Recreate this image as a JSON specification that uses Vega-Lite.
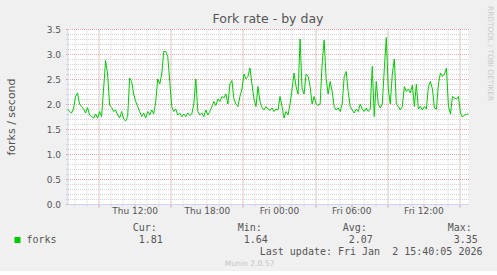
{
"$schema": "https://vega.github.io/schema/vega-lite/v6.json",
"background": "#f0f0f0",
"padding": {"left": 5.5, "top": 5, "right": 3, "bottom": 3},
"config": {"font": "DejaVu Sans", "view": {"stroke": null}, "axis": {"labelFont": "DejaVu Sans", "titleFont": "DejaVu Sans", "labelColor": "#555555", "titleColor": "#555555", "titleFontWeight": "normal", "labelFontSize": 9}},
"title": {"text": "Munin 2.0.57", "orient": "bottom", "anchor": "middle", "fontSize": 7.6, "fontWeight": "normal", "color": "#c4c4c4", "offset": 3},
"spacing": 7,
"vconcat": [
{
"width": 401, "height": 175,
"view": {"fill": "#ffffff", "stroke": null},
"title": {"text": "Fork rate - by day", "fontSize": 12.5, "fontWeight": "normal", "color": "#555555", "anchor": "middle", "offset": -19.5},
"data": {"values": [
{"t":"2026-01-01T06:25:00Z","v":1.9},{"t":"2026-01-01T06:35:00Z","v":1.85},{"t":"2026-01-01T06:45:00Z","v":1.82},{"t":"2026-01-01T06:55:00Z","v":1.9},
{"t":"2026-01-01T07:05:00Z","v":2.15},{"t":"2026-01-01T07:15:00Z","v":2.22},{"t":"2026-01-01T07:25:00Z","v":2.0},{"t":"2026-01-01T07:35:00Z","v":1.95},{"t":"2026-01-01T07:45:00Z","v":1.9},{"t":"2026-01-01T07:55:00Z","v":1.82},
{"t":"2026-01-01T08:05:00Z","v":1.93},{"t":"2026-01-01T08:15:00Z","v":1.78},{"t":"2026-01-01T08:25:00Z","v":1.75},{"t":"2026-01-01T08:35:00Z","v":1.72},{"t":"2026-01-01T08:45:00Z","v":1.8},{"t":"2026-01-01T08:55:00Z","v":1.72},
{"t":"2026-01-01T09:05:00Z","v":1.85},{"t":"2026-01-01T09:15:00Z","v":1.75},{"t":"2026-01-01T09:25:00Z","v":2.3},{"t":"2026-01-01T09:35:00Z","v":2.87},{"t":"2026-01-01T09:45:00Z","v":2.6},{"t":"2026-01-01T09:55:00Z","v":1.98},
{"t":"2026-01-01T10:05:00Z","v":1.93},{"t":"2026-01-01T10:15:00Z","v":1.85},{"t":"2026-01-01T10:25:00Z","v":1.88},{"t":"2026-01-01T10:35:00Z","v":1.78},{"t":"2026-01-01T10:45:00Z","v":1.72},{"t":"2026-01-01T10:55:00Z","v":1.85},
{"t":"2026-01-01T11:05:00Z","v":1.7},{"t":"2026-01-01T11:15:00Z","v":1.66},{"t":"2026-01-01T11:25:00Z","v":1.75},{"t":"2026-01-01T11:35:00Z","v":2.52},{"t":"2026-01-01T11:45:00Z","v":2.45},{"t":"2026-01-01T11:55:00Z","v":2.2},
{"t":"2026-01-01T12:05:00Z","v":2.05},{"t":"2026-01-01T12:15:00Z","v":1.95},{"t":"2026-01-01T12:25:00Z","v":1.85},{"t":"2026-01-01T12:35:00Z","v":1.75},{"t":"2026-01-01T12:45:00Z","v":1.82},{"t":"2026-01-01T12:55:00Z","v":1.72},
{"t":"2026-01-01T13:05:00Z","v":1.85},{"t":"2026-01-01T13:15:00Z","v":1.78},{"t":"2026-01-01T13:25:00Z","v":1.88},{"t":"2026-01-01T13:35:00Z","v":1.8},{"t":"2026-01-01T13:45:00Z","v":2.05},{"t":"2026-01-01T13:55:00Z","v":2.5},
{"t":"2026-01-01T14:05:00Z","v":2.4},{"t":"2026-01-01T14:15:00Z","v":2.6},{"t":"2026-01-01T14:25:00Z","v":3.05},{"t":"2026-01-01T14:35:00Z","v":3.05},{"t":"2026-01-01T14:45:00Z","v":2.95},{"t":"2026-01-01T14:55:00Z","v":2.45},
{"t":"2026-01-01T15:05:00Z","v":1.95},{"t":"2026-01-01T15:15:00Z","v":1.85},{"t":"2026-01-01T15:25:00Z","v":1.9},{"t":"2026-01-01T15:35:00Z","v":1.78},{"t":"2026-01-01T15:45:00Z","v":1.82},{"t":"2026-01-01T15:55:00Z","v":1.75},
{"t":"2026-01-01T16:05:00Z","v":1.8},{"t":"2026-01-01T16:15:00Z","v":1.75},{"t":"2026-01-01T16:25:00Z","v":1.82},{"t":"2026-01-01T16:35:00Z","v":1.77},{"t":"2026-01-01T16:45:00Z","v":1.8},{"t":"2026-01-01T16:55:00Z","v":2.0},
{"t":"2026-01-01T17:05:00Z","v":2.5},{"t":"2026-01-01T17:15:00Z","v":1.85},{"t":"2026-01-01T17:25:00Z","v":1.78},{"t":"2026-01-01T17:35:00Z","v":1.82},{"t":"2026-01-01T17:45:00Z","v":1.75},{"t":"2026-01-01T17:55:00Z","v":1.88},
{"t":"2026-01-01T18:05:00Z","v":1.78},{"t":"2026-01-01T18:15:00Z","v":1.85},{"t":"2026-01-01T18:25:00Z","v":1.95},{"t":"2026-01-01T18:35:00Z","v":2.05},{"t":"2026-01-01T18:45:00Z","v":1.97},{"t":"2026-01-01T18:55:00Z","v":2.1},
{"t":"2026-01-01T19:05:00Z","v":2.05},{"t":"2026-01-01T19:15:00Z","v":2.15},{"t":"2026-01-01T19:25:00Z","v":2.12},{"t":"2026-01-01T19:35:00Z","v":2.2},{"t":"2026-01-01T19:45:00Z","v":2.0},{"t":"2026-01-01T19:55:00Z","v":2.4},
{"t":"2026-01-01T20:05:00Z","v":2.47},{"t":"2026-01-01T20:15:00Z","v":2.1},{"t":"2026-01-01T20:25:00Z","v":2.0},{"t":"2026-01-01T20:35:00Z","v":1.95},{"t":"2026-01-01T20:45:00Z","v":2.15},{"t":"2026-01-01T20:55:00Z","v":2.3},
{"t":"2026-01-01T21:05:00Z","v":2.6},{"t":"2026-01-01T21:15:00Z","v":2.5},{"t":"2026-01-01T21:25:00Z","v":2.55},{"t":"2026-01-01T21:35:00Z","v":2.72},{"t":"2026-01-01T21:45:00Z","v":2.4},{"t":"2026-01-01T21:55:00Z","v":2.1},
{"t":"2026-01-01T22:05:00Z","v":1.95},{"t":"2026-01-01T22:15:00Z","v":2.35},{"t":"2026-01-01T22:25:00Z","v":2.05},{"t":"2026-01-01T22:35:00Z","v":1.93},{"t":"2026-01-01T22:45:00Z","v":1.88},{"t":"2026-01-01T22:55:00Z","v":1.95},
{"t":"2026-01-01T23:05:00Z","v":1.9},{"t":"2026-01-01T23:15:00Z","v":1.87},{"t":"2026-01-01T23:25:00Z","v":1.92},{"t":"2026-01-01T23:35:00Z","v":1.85},{"t":"2026-01-01T23:45:00Z","v":1.9},{"t":"2026-01-01T23:55:00Z","v":1.88},
{"t":"2026-01-02T00:05:00Z","v":2.15},{"t":"2026-01-02T00:15:00Z","v":1.95},{"t":"2026-01-02T00:25:00Z","v":1.72},{"t":"2026-01-02T00:35:00Z","v":1.85},{"t":"2026-01-02T00:45:00Z","v":1.78},{"t":"2026-01-02T00:55:00Z","v":2.0},
{"t":"2026-01-02T01:05:00Z","v":2.3},{"t":"2026-01-02T01:15:00Z","v":2.62},{"t":"2026-01-02T01:25:00Z","v":2.35},{"t":"2026-01-02T01:35:00Z","v":2.2},{"t":"2026-01-02T01:45:00Z","v":3.3},{"t":"2026-01-02T01:55:00Z","v":2.3},
{"t":"2026-01-02T02:05:00Z","v":2.2},{"t":"2026-01-02T02:15:00Z","v":2.6},{"t":"2026-01-02T02:25:00Z","v":2.55},{"t":"2026-01-02T02:35:00Z","v":2.35},{"t":"2026-01-02T02:45:00Z","v":2.0},{"t":"2026-01-02T02:55:00Z","v":2.15},
{"t":"2026-01-02T03:05:00Z","v":2.0},{"t":"2026-01-02T03:15:00Z","v":1.97},{"t":"2026-01-02T03:25:00Z","v":2.0},{"t":"2026-01-02T03:35:00Z","v":2.8},{"t":"2026-01-02T03:45:00Z","v":3.28},{"t":"2026-01-02T03:55:00Z","v":2.5},
{"t":"2026-01-02T04:05:00Z","v":2.2},{"t":"2026-01-02T04:15:00Z","v":2.45},{"t":"2026-01-02T04:25:00Z","v":2.25},{"t":"2026-01-02T04:35:00Z","v":1.95},{"t":"2026-01-02T04:45:00Z","v":1.88},{"t":"2026-01-02T04:55:00Z","v":1.92},
{"t":"2026-01-02T05:05:00Z","v":1.85},{"t":"2026-01-02T05:15:00Z","v":2.0},{"t":"2026-01-02T05:25:00Z","v":2.55},{"t":"2026-01-02T05:35:00Z","v":2.65},{"t":"2026-01-02T05:45:00Z","v":2.25},{"t":"2026-01-02T05:55:00Z","v":1.95},
{"t":"2026-01-02T06:05:00Z","v":1.88},{"t":"2026-01-02T06:15:00Z","v":1.82},{"t":"2026-01-02T06:25:00Z","v":1.9},{"t":"2026-01-02T06:35:00Z","v":1.85},{"t":"2026-01-02T06:45:00Z","v":2.0},{"t":"2026-01-02T06:55:00Z","v":1.9},
{"t":"2026-01-02T07:05:00Z","v":1.85},{"t":"2026-01-02T07:15:00Z","v":1.92},{"t":"2026-01-02T07:25:00Z","v":1.85},{"t":"2026-01-02T07:35:00Z","v":1.9},{"t":"2026-01-02T07:45:00Z","v":2.75},{"t":"2026-01-02T07:55:00Z","v":1.75},
{"t":"2026-01-02T08:05:00Z","v":2.45},{"t":"2026-01-02T08:15:00Z","v":2.0},{"t":"2026-01-02T08:25:00Z","v":1.92},{"t":"2026-01-02T08:35:00Z","v":2.0},{"t":"2026-01-02T08:45:00Z","v":2.7},{"t":"2026-01-02T08:55:00Z","v":3.33},
{"t":"2026-01-02T09:05:00Z","v":2.3},{"t":"2026-01-02T09:15:00Z","v":2.0},{"t":"2026-01-02T09:25:00Z","v":2.6},{"t":"2026-01-02T09:35:00Z","v":2.9},{"t":"2026-01-02T09:45:00Z","v":2.0},{"t":"2026-01-02T09:55:00Z","v":1.95},
{"t":"2026-01-02T10:05:00Z","v":1.88},{"t":"2026-01-02T10:15:00Z","v":1.95},{"t":"2026-01-02T10:25:00Z","v":2.35},{"t":"2026-01-02T10:35:00Z","v":2.25},{"t":"2026-01-02T10:45:00Z","v":2.3},{"t":"2026-01-02T10:55:00Z","v":2.22},
{"t":"2026-01-02T11:05:00Z","v":2.38},{"t":"2026-01-02T11:15:00Z","v":1.95},{"t":"2026-01-02T11:25:00Z","v":2.4},{"t":"2026-01-02T11:35:00Z","v":1.9},{"t":"2026-01-02T11:45:00Z","v":1.95},{"t":"2026-01-02T11:55:00Z","v":1.88},
{"t":"2026-01-02T12:05:00Z","v":1.95},{"t":"2026-01-02T12:15:00Z","v":1.9},{"t":"2026-01-02T12:25:00Z","v":2.35},{"t":"2026-01-02T12:35:00Z","v":2.45},{"t":"2026-01-02T12:45:00Z","v":2.3},{"t":"2026-01-02T12:55:00Z","v":1.92},
{"t":"2026-01-02T13:05:00Z","v":1.9},{"t":"2026-01-02T13:15:00Z","v":2.4},{"t":"2026-01-02T13:25:00Z","v":2.62},{"t":"2026-01-02T13:35:00Z","v":2.55},{"t":"2026-01-02T13:45:00Z","v":2.6},{"t":"2026-01-02T13:55:00Z","v":2.72},
{"t":"2026-01-02T14:05:00Z","v":1.95},{"t":"2026-01-02T14:15:00Z","v":1.8},{"t":"2026-01-02T14:25:00Z","v":2.15},{"t":"2026-01-02T14:35:00Z","v":2.12},{"t":"2026-01-02T14:45:00Z","v":2.1},{"t":"2026-01-02T14:55:00Z","v":2.15},
{"t":"2026-01-02T15:05:00Z","v":1.82},{"t":"2026-01-02T15:15:00Z","v":1.74},{"t":"2026-01-02T15:25:00Z","v":1.78},{"t":"2026-01-02T15:35:00Z","v":1.79},{"t":"2026-01-02T15:45:00Z","v":1.81}
]},
"layer": [
{
"mark": {"type": "line", "opacity": 0},
"encoding": {
"x": {"field": "t", "type": "temporal", "scale": {"type": "utc", "domain": [1767248700000, 1767368700000]},
"axis": {"orient": "bottom", "values": [1767250800000,1767254400000,1767258000000,1767261600000,1767265200000,1767268800000,1767272400000,1767276000000,1767279600000,1767283200000,1767286800000,1767290400000,1767294000000,1767297600000,1767301200000,1767304800000,1767308400000,1767312000000,1767315600000,1767319200000,1767322800000,1767326400000,1767330000000,1767333600000,1767337200000,1767340800000,1767344400000,1767348000000,1767351600000,1767355200000,1767358800000,1767362400000,1767366000000], "grid": true, "gridColor": "#d4d4d4", "gridDash": [1, 1], "labels": false, "ticks": true, "tickSize": 2, "tickColor": "#d4d4d4", "domain": false, "title": null}},
"y": {"field": "v", "type": "quantitative", "scale": {"domain": [0, 3.5], "nice": false},
"axis": {"orient": "left", "values": [0.1,0.2,0.3,0.4,0.6,0.7,0.8,0.9,1.1,1.2,1.3,1.4,1.6,1.7,1.8,1.9,2.1,2.2,2.3,2.4,2.6,2.7,2.8,2.9,3.1,3.2,3.3,3.4], "grid": true, "gridColor": "#d4d4d4", "gridDash": [1, 1], "labels": false, "ticks": true, "tickSize": 2, "tickColor": "#d4d4d4", "domain": false, "title": null}}
}
},
{
"mark": {"type": "line", "opacity": 0},
"encoding": {
"x": {"field": "t", "type": "temporal", "scale": {"type": "utc", "domain": [1767248700000, 1767368700000]},
"axis": {"orient": "bottom", "values": [1767258000000,1767279600000,1767301200000,1767322800000,1767344400000,1767366000000], "grid": true, "gridColor": "#e8a4a4", "gridDash": [1, 1], "labels": false, "ticks": false, "domain": false, "title": null}},
"y": {"field": "v", "type": "quantitative", "scale": {"domain": [0, 3.5], "nice": false},
"axis": {"orient": "left", "values": [0, 0.5, 1, 1.5, 2, 2.5, 3, 3.5], "format": ".1f", "grid": true, "gridColor": "#e8a4a4", "gridDash": [1, 1], "ticks": true, "tickSize": 2, "tickColor": "#e8a4a4", "labelPadding": 5, "domain": true, "domainColor": "#cfd3f5", "title": "forks / second", "titleFontSize": 11, "titlePadding": 29.5}}
}
},
{
"mark": {"type": "line", "opacity": 0},
"encoding": {
"x": {"field": "t", "type": "temporal", "scale": {"type": "utc", "domain": [1767248700000, 1767368700000]},
"axis": {"orient": "bottom", "values": [1767258000000,1767268800000,1767279600000,1767290400000,1767301200000,1767312000000,1767322800000,1767333600000,1767344400000,1767355200000,1767366000000], "labelExpr": "utchours(datum.value) % 6 == 0 ? utcFormat(datum.value, '%a %H:%M') : ''", "grid": false, "ticks": true, "tickSize": 3, "tickColor": "#e8a4a4", "labelPadding": -1, "labelFontSize": 9, "labelFlush": false, "labelOverlap": false, "domain": true, "domainColor": "#cfd3f5", "title": null}},
"y": {"field": "v", "type": "quantitative", "scale": {"domain": [0, 3.5], "nice": false},
"axis": {"orient": "right", "labels": false, "ticks": false, "domain": false, "grid": false, "title": "RRDTOOL / TOBI OETIKER", "titleAngle": 90, "titleFontSize": 7.4, "titleColor": "#c8c8c8", "titleX": 20.8, "titleY": -23.5, "titleAlign": "left", "titleBaseline": "middle"}}
}
},
{
"mark": {"type": "line", "strokeWidth": 1, "clip": true},
"encoding": {
"x": {"field": "t", "type": "temporal", "scale": {"type": "utc", "domain": [1767248700000, 1767368700000]}, "axis": null},
"y": {"field": "v", "type": "quantitative", "scale": {"domain": [0, 3.5], "nice": false}, "axis": null},
"color": {"datum": "forks", "scale": {"range": ["#00cc00"]},
"legend": {"orient": "none", "legendX": -55, "legendY": 206, "title": null, "padding": 0, "symbolType": "square", "symbolSize": 36, "symbolFillColor": "#00cc00", "symbolStrokeColor": "#00cc00", "symbolStrokeWidth": 0, "labelFont": "DejaVu Sans Mono", "labelFontSize": 10, "labelColor": "#555555", "labelOffset": 4}}
}
}
],
"resolve": {"axis": {"x": "independent", "y": "independent"}}
},
{
"width": 415, "height": 24,
"view": {"fill": null, "stroke": null},
"title": {"text": "Last update: Fri Jan\u00a0 2 15:40:05 2026", "orient": "bottom", "anchor": "end", "font": "DejaVu Sans Mono", "fontSize": 10, "fontWeight": "normal", "color": "#555555", "offset": 1},
"data": {"values": [{"stat": "Cur:", "val": "1.81"}, {"stat": "Min:", "val": "1.64"}, {"stat": "Avg:", "val": "2.07"}, {"stat": "Max:", "val": "3.35"}]},
"encoding": {"x": {"field": "stat", "type": "nominal", "sort": null, "scale": {"domain": ["Cur:", "Min:", "Avg:", "Max:"], "range": [65.3, 380.3], "padding": 0}, "axis": null}},
"layer": [
{"mark": {"type": "text", "align": "left", "baseline": "middle", "dy": -6, "font": "DejaVu Sans Mono", "fontSize": 10, "color": "#555555"}, "encoding": {"text": {"field": "stat"}}},
{"mark": {"type": "text", "align": "left", "baseline": "middle", "dy": 5.5, "dx": 6, "font": "DejaVu Sans Mono", "fontSize": 10, "color": "#555555"}, "encoding": {"text": {"field": "val"}}}
]
}
]
}
